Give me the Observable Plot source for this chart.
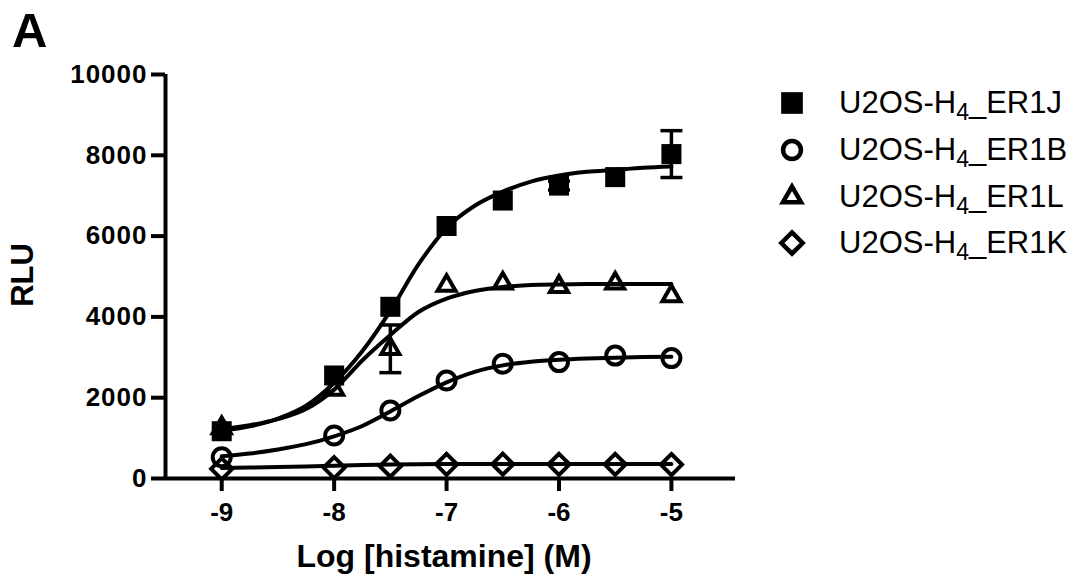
<!DOCTYPE html>
<html><head><meta charset="utf-8">
<script src="https://cdn.jsdelivr.net/npm/d3@7"></script>
<script src="https://cdn.jsdelivr.net/npm/@observablehq/plot@0.6"></script>
<style>
html,body{margin:0;padding:0;background:#fff;}
#wrap{position:relative;width:1079px;height:576px;overflow:hidden;}
#overlay{position:absolute;left:0;top:0;pointer-events:none;}
g[aria-label="y-axis tick label"] text{letter-spacing:1px;}
</style></head><body><div id="wrap"></div>
<script>
// ---- data ----
const doses = [-9, -8, -7.5, -7, -6.5, -6, -5.5, -5];
const er1J = [1170, 2550, 4250, 6250, 6880, 7250, 7460, 8030];
const er1Jerr = [0, 0, 0, 0, 0, 110, 0, 580];
const er1B = [526, 1066, 1684, 2427, 2840, 2881, 3042, 2980];
const er1Berr = [0, 0, 0, 0, 0, 0, 0, 0];
const er1L = [1250, 2200, 3210, 4773, 4832, 4748, 4832, 4518];
const er1Lerr = [0, 0, 590, 0, 0, 0, 0, 0];
const er1K = [240, 270, 304, 350, 355, 350, 350, 345];
const er1Kerr = [0, 0, 0, 0, 0, 0, 0, 0];

// fitted curves
const curveX = [-9, -8.75, -8.5, -8.25, -8, -7.75, -7.5, -7.25, -7, -6.75, -6.5, -6.25, -6, -5.75, -5.5, -5.25, -5];
const fitJ = [1180, 1290, 1480, 1800, 2370, 3150, 4150, 5300, 6200, 6750, 7100, 7350, 7500, 7590, 7640, 7690, 7720];
const fitB = [550, 620, 720, 850, 1045, 1300, 1660, 2040, 2380, 2640, 2800, 2890, 2940, 2970, 2990, 3005, 3015];
const fitL = [1230, 1320, 1470, 1720, 2200, 2920, 3550, 4120, 4450, 4640, 4740, 4790, 4805, 4812, 4815, 4815, 4815];
const fitK = [262, 272, 285, 300, 318, 333, 345, 353, 358, 360, 361, 362, 362, 362, 362, 362, 362];

const seriesKeys = ["ER1J", "ER1B", "ER1L", "ER1K"];
const legendPrefix = "U2OS-H";
const legendSub = "4";
const legendSuffix = ["_ER1J", "_ER1B", "_ER1L", "_ER1K"];

const xTicks = [-9, -8, -7, -6, -5];
const yTicks = [0, 2000, 4000, 6000, 8000, 10000];
const xDomain = [-9.5, -4.43];
const yDomain = [0, 10000];
const xLabel = "Log [histamine] (M)";
const yLabel = "RLU";
const panelLabel = "A";

// ---- build tables ----
const pointSets = {ER1J: [er1J, er1Jerr], ER1B: [er1B, er1Berr], ER1L: [er1L, er1Lerr], ER1K: [er1K, er1Kerr]};
const fitSets = {ER1J: fitJ, ER1B: fitB, ER1L: fitL, ER1K: fitK};
const points = [];
seriesKeys.forEach(k => doses.forEach((d, i) => points.push({series: k, x: d, y: pointSets[k][0][i], err: pointSets[k][1][i]})));
const curves = [];
seriesKeys.forEach(k => curveX.forEach((d, i) => curves.push({series: k, x: d, y: fitSets[k][i]})));
const withErr = points.filter(d => d.err > 0);
const caps = [];
withErr.forEach(d => { caps.push({x: d.x, y: d.y + d.err}); caps.push({x: d.x, y: d.y - d.err}); });

const hbar = {draw(ctx, size) { const w = Math.sqrt(size) / 2; ctx.moveTo(-w, 0); ctx.lineTo(w, 0); }};

const W = 1079, H = 576;
const chart = Plot.plot({
  width: W, height: H,
  marginLeft: 165, marginRight: 344, marginTop: 74, marginBottom: 98,
  style: {fontFamily: "'Liberation Sans', Arial, sans-serif", fontWeight: "bold", background: "white", color: "black"},
  x: {domain: xDomain},
  y: {domain: yDomain},
  marks: [
    Plot.ruleY([yDomain[0]], {strokeWidth: 4}),
    Plot.ruleX([xDomain[0]], {strokeWidth: 4}),
    Plot.axisY({ticks: yTicks, tickSize: 14, tickPadding: 4, fontSize: 26, strokeWidth: 4, tickFormat: d => String(d), label: null}),
    Plot.axisX({ticks: xTicks, tickSize: 13, tickPadding: 11, fontSize: 26, strokeWidth: 4, tickFormat: d => String(d), label: null}),
    Plot.line(curves, {x: "x", y: "y", z: "series", curve: "monotone-x", stroke: "black", strokeWidth: 4}),
    Plot.ruleX(withErr, {x: "x", y1: d => d.y - d.err, y2: d => d.y + d.err, stroke: "black", strokeWidth: 3.5}),
    Plot.dot(caps, {x: "x", y: "y", symbol: hbar, r: 12.4, stroke: "black", strokeWidth: 3.5}),
    Plot.dot(points.filter(d => d.series === "ER1J"), {x: "x", y: "y", symbol: "square", r: 11.3, fill: "black", stroke: "none"}),
    Plot.dot(points.filter(d => d.series === "ER1B"), {x: "x", y: "y", symbol: "circle", r: 9, fill: "none", stroke: "black", strokeWidth: 4}),
    Plot.dot(points.filter(d => d.series === "ER1L"), {x: "x", y: "y", symbol: "triangle2", r: 8.6, fill: "none", stroke: "black", strokeWidth: 4, strokeLinejoin: "miter"}),
    Plot.dot(points.filter(d => d.series === "ER1K"), {x: "x", y: "y", symbol: "diamond2", r: 9.5, fill: "none", stroke: "black", strokeWidth: 4, strokeLinejoin: "miter"})
  ]
});
const wrap = document.getElementById("wrap");
wrap.appendChild(chart);

// ---- overlay: panel letter, axis titles, legend ----
const ov = d3.select(wrap).append("svg").attr("id", "overlay").attr("width", W).attr("height", H)
  .style("font-family", "'Liberation Sans', Arial, sans-serif");
ov.append("text").attr("x", 12).attr("y", 47).attr("font-size", 49).attr("font-weight", "bold").text(panelLabel);
ov.append("text").attr("transform", "translate(33,275) rotate(-90)").attr("text-anchor", "middle")
  .attr("font-size", 31).attr("font-weight", "bold").text(yLabel);
ov.append("text").attr("x", 444).attr("y", 567).attr("text-anchor", "middle")
  .attr("font-size", 32).attr("font-weight", "bold").text(xLabel);

const legendSymbols = [d3.symbolSquare, d3.symbolCircle, d3.symbolTriangle2, d3.symbolDiamond2];
const legendFill = [true, false, false, false];
const legendSize = [470, 250, 235, 290];
const rowY = [103, 150, 197, 243];
seriesKeys.forEach((k, i) => {
  const g = ov.append("g");
  g.append("path").attr("transform", `translate(792,${rowY[i]})`)
    .attr("d", d3.symbol(legendSymbols[i], legendSize[i])())
    .attr("fill", legendFill[i] ? "black" : "none")
    .attr("stroke", legendFill[i] ? "none" : "black").attr("stroke-width", 4.5).attr("stroke-linejoin", "miter");
  const t = g.append("text").attr("x", 839).attr("y", rowY[i] + 10).attr("font-size", 31);
  t.append("tspan").text(legendPrefix);
  t.append("tspan").attr("font-size", 23).attr("dy", 7).text(legendSub);
  t.append("tspan").attr("dy", -7).text(legendSuffix[i]);
});
</script></body></html>
